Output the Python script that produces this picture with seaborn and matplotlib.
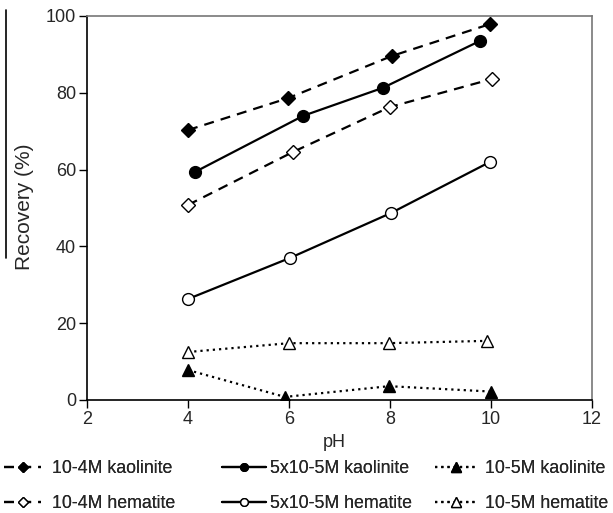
import matplotlib
matplotlib.use("Agg")
import matplotlib.pyplot as plt
import seaborn as sns
import pandas as pd
from matplotlib.lines import Line2D

sns.set_style("white")
plt.rcParams['font.family'] = ['Liberation Sans', 'DejaVu Sans']

labels = ["10-4M kaolinite", "5x10-5M kaolinite", "10-5M kaolinite",
          "10-4M hematite", "5x10-5M hematite", "10-5M hematite"]

ph_k4 = [4.0, 5.98, 8.04, 9.98]
rec_k4 = [70.3, 78.6, 89.6, 97.9]
ph_k5x = [4.14, 6.28, 7.86, 9.78]
rec_k5x = [59.4, 74.0, 81.3, 93.5]
ph_k5 = [4.0, 5.92, 7.98, 10.0]
rec_k5 = [7.8, 0.8, 3.6, 2.2]
ph_h4 = [4.0, 6.08, 8.0, 10.02]
rec_h4 = [50.8, 64.6, 76.3, 83.6]
ph_h5x = [4.0, 6.02, 8.02, 9.98]
rec_h5x = [26.3, 37.0, 48.7, 62.0]
ph_h5 = [4.0, 6.0, 7.98, 9.92]
rec_h5 = [12.5, 14.8, 14.8, 15.4]

DASH = (0, (4.5, 3.2))
DOT = (0, (1, 1.8))
series = [
    (labels[0], ph_k4, rec_k4, DASH, "D", 7.5, 5.0, "black"),
    (labels[1], ph_k5x, rec_k5x, "-", "o", 8.5, 5.5, "black"),
    (labels[2], ph_k5, rec_k5, DOT, "^", 9, 6.5, "black"),
    (labels[3], ph_h4, rec_h4, DASH, "D", 7.5, 5.0, "white"),
    (labels[4], ph_h5x, rec_h5x, "-", "o", 8.5, 5.5, "white"),
    (labels[5], ph_h5, rec_h5, DOT, "^", 9, 6.5, "white"),
]

fig = plt.figure(figsize=(6.13, 5.13), dpi=100)
ax = fig.add_axes([87/613, 1 - 400/513, (592-87)/613, (400-16)/513])

handles = {}
for name, xs, ys, ls, mk, ms, lms, fc in series:
    df = pd.DataFrame({"pH": xs, "Recovery": ys})
    sns.lineplot(data=df, x="pH", y="Recovery", ax=ax, color="black",
                 linewidth=1.6, linestyle=ls, marker=mk, markersize=ms,
                 markerfacecolor=fc, markeredgecolor="black", markeredgewidth=1.0,
                 sort=False)
    handles[name] = Line2D([], [], color="black", linewidth=1.6, linestyle=ls,
                           marker=mk, markersize=lms, markerfacecolor=fc,
                           markeredgecolor="black", markeredgewidth=1.0)

ax.set_xlim(2, 12)
ax.set_ylim(0, 100)
ax.set_xticks([2, 4, 6, 8, 10, 12])
ax.set_yticks([0, 20, 40, 60, 80, 100])
ax.tick_params(axis="both", labelsize=13, direction="out", length=6, width=1,
               color="black", left=True, bottom=True, pad=2)
ax.set_xlabel("pH", fontsize=13)
ax.set_ylabel("Recovery (%)", fontsize=15)
ax.xaxis.set_label_coords((334 - 87) / 505, -(434 - 400) / 384)
ax.yaxis.set_label_coords(-(87 - 34) / 505, (400 - 207) / 384)
for s in ["left", "bottom"]:
    ax.spines[s].set_color("black")
    ax.spines[s].set_linewidth(1.2)
for s in ["top", "right"]:
    ax.spines[s].set_color("#777777")
    ax.spines[s].set_linewidth(1.2)

# legend: three columns, kaolinite on the top row, hematite on the bottom row
col_x = [4, 222, 435]
col_hl = [2.1, 2.5, 2.4]
col_pad = [0.6, 0.2, 0.4]
for ci in range(3):
    names = [labels[ci], labels[ci + 3]]
    leg = fig.legend([handles[n] for n in names], names, loc="center left",
                     bbox_to_anchor=(col_x[ci] / 613, 1 - 486 / 513),
                     frameon=False, fontsize=12.8, handlelength=col_hl[ci],
                     handletextpad=col_pad[ci], labelspacing=1.0,
                     borderpad=0, borderaxespad=0)
    fig.add_artist(leg)

# stray vertical line at left of original figure
fig.add_artist(Line2D([6/613, 6/613], [1 - 10/513, 1 - 258/513], color="black", linewidth=1.2))

fig.savefig("out.png", dpi=100)
